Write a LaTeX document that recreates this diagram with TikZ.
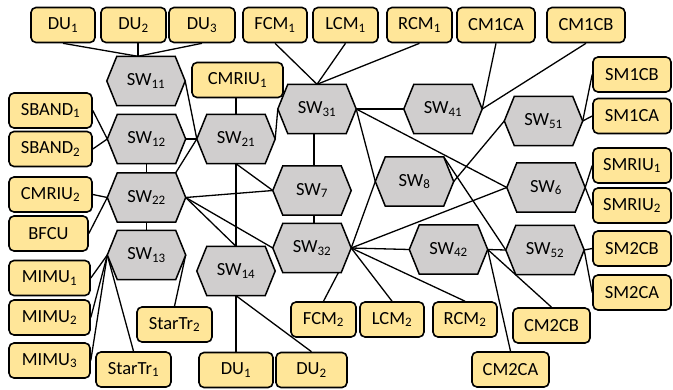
\documentclass[tikz,border=0pt]{standalone}
\usepackage{fontspec}
\setmainfont{Carlito}
\usetikzlibrary{calc}
\definecolor{boxfill}{HTML}{FFE699}
\definecolor{hexfill}{HTML}{D0CECE}
\pgfdeclarelayer{bg}
\pgfdeclarelayer{mid}
\pgfsetlayers{bg,mid,main}
\begin{document}
\begin{tikzpicture}[x=1pt,y=-1pt,
  lbl/.style={font=\fontsize{18.5}{20}\selectfont},
  box/.style={lbl, draw, line width=1.6pt, rounded corners=5pt, fill=boxfill, inner sep=0pt, minimum height=35pt},
  hexn/.style={lbl, inner sep=0pt, minimum width=78pt, minimum height=49pt},
  hexline/.style={draw, line width=1.5pt, fill=hexfill, line join=miter},
  link/.style={line width=1.3pt}]
\useasboundingbox (0,0) rectangle (673,389);
% top row
\node[box, minimum width=64pt] (du1t) at (63,25) {DU\textsubscript{1}};
\node[box, minimum width=65pt] (du2t) at (133.5,25) {DU\textsubscript{2}};
\node[box, minimum width=66pt] (du3t) at (202,25) {DU\textsubscript{3}};
\node[box, minimum width=64pt] (fcm1) at (275,25) {FCM\textsubscript{1}};
\node[box, minimum width=65pt] (lcm1) at (345.5,25) {LCM\textsubscript{1}};
\node[box, minimum width=65pt] (rcm1) at (419.5,25) {RCM\textsubscript{1}};
\node[box, minimum width=78pt] (cm1ca) at (496,25) {CM1CA};
\node[box, minimum width=78pt] (cm1cb) at (586,25) {CM1CB};
% right column
\node[box, minimum width=78pt] (sm1cb) at (632,74.5) {SM1CB};
\node[box, minimum width=78pt] (sm1ca) at (632,116) {SM1CA};
\node[box, minimum width=78pt] (smriu1) at (632,165.5) {SMRIU\textsubscript{1}};
\node[box, minimum width=78pt] (smriu2) at (632,205.5) {SMRIU\textsubscript{2}};
\node[box, minimum width=78pt] (sm2cb) at (632,248.5) {SM2CB};
\node[box, minimum width=78pt] (sm2ca) at (632,292.5) {SM2CA};
% left column
\node[box, minimum width=83pt] (sband1) at (50.5,110.5) {SBAND\textsubscript{1}};
\node[box, minimum width=83pt] (sband2) at (50.5,149) {SBAND\textsubscript{2}};
\node[box, minimum width=83pt] (cmriu2) at (50.5,194.5) {CMRIU\textsubscript{2}};
\node[box, minimum width=79pt] (bfcu) at (48.5,233.5) {BFCU};
\node[box, minimum width=81pt] (mimu1) at (49.5,278) {MIMU\textsubscript{1}};
\node[box, minimum width=81pt] (mimu2) at (49.5,317.5) {MIMU\textsubscript{2}};
\node[box, minimum width=81pt] (mimu3) at (49.5,360.5) {MIMU\textsubscript{3}};
\node[box, minimum width=75pt] (startr1) at (133.5,369.5) {StarTr\textsubscript{1}};
\node[box, minimum width=75pt] (startr2) at (174.5,324.5) {StarTr\textsubscript{2}};
% middle boxes
\node[box, minimum width=91pt] (cmriu1) at (237.5,80) {CMRIU\textsubscript{1}};
\node[box, minimum width=74pt] (du1b) at (236,370) {DU\textsubscript{1}};
\node[box, minimum width=71pt] (du2b) at (311.5,370) {DU\textsubscript{2}};
\node[box, minimum width=65pt] (fcm2) at (323.5,319.5) {FCM\textsubscript{2}};
\node[box, minimum width=64pt] (lcm2) at (392,319.5) {LCM\textsubscript{2}};
\node[box, minimum width=64pt] (rcm2) at (465,319.5) {RCM\textsubscript{2}};
\node[box, minimum width=77pt] (cm2cb) at (551.5,325.5) {CM2CB};
\node[box, minimum width=77pt] (cm2ca) at (510.5,369.5) {CM2CA};
% switches
\node[hexn] (sw11) at (146,81) {SW\textsubscript{11}};
\node[hexn] (sw12) at (146.5,139) {SW\textsubscript{12}};
\node[hexn] (sw22) at (146.5,197.5) {SW\textsubscript{22}};
\node[hexn] (sw13) at (146.5,255) {SW\textsubscript{13}};
\node[hexn] (sw21) at (236,139) {SW\textsubscript{21}};
\node[hexn] (sw14) at (236,271) {SW\textsubscript{14}};
\node[hexn] (sw31) at (317,109) {SW\textsubscript{31}};
\node[hexn] (sw7) at (312,190.5) {SW\textsubscript{7}};
\node[hexn] (sw32) at (312,248) {SW\textsubscript{32}};
\node[hexn] (sw8) at (414.5,181.5) {SW\textsubscript{8}};
\node[hexn] (sw41) at (443,109) {SW\textsubscript{41}};
\node[hexn] (sw51) at (543.5,121) {SW\textsubscript{51}};
\node[hexn] (sw6) at (546,187.5) {SW\textsubscript{6}};
\node[hexn] (sw52) at (545,250) {SW\textsubscript{52}};
\node[hexn] (sw42) at (448.5,249.5) {SW\textsubscript{42}};
\coordinate (s11t) at ([xshift=-8pt]sw11.north);
\coordinate (s7t) at ([xshift=2pt]sw7.north);
\begin{pgfonlayer}{mid}
\foreach \n in {sw11,sw12,sw22,sw13,sw21,sw14,sw31,sw7,sw32,sw8,sw41,sw51,sw6,sw52,sw42}{
  \draw[hexline] (\n.west) -- ([xshift=10pt]\n.north west) -- ([xshift=-10pt]\n.north east) -- (\n.east) -- ([xshift=-10pt]\n.south east) -- ([xshift=10pt]\n.south west) -- cycle;
}
\end{pgfonlayer}
\begin{pgfonlayer}{bg}
\draw[link] (du1t.south) -- (s11t);
\draw[link] (du2t.south -| s11t) -- (s11t);
\draw[link] (du3t.south) -- (s11t);
\draw[link] (sw11.east) -- (sw21.west);
\draw[link] (sband1.east) -- (sw12.west);
\draw[link] (sband2.east) -- (sw12.west);
\draw[link] (sw12.east) -- (sw21.west);
\draw[link] (sw12.south) -- (sw22.north);
\draw[link] ([xshift=-10pt]sw22.north east) -- (sw21.west);
\draw[link] (sw22.south) -- (sw13.north);
\draw[link] (cmriu2.east) -- (sw22.west);
\draw[link] (bfcu.east) -- (sw22.west);
\draw[link] (sw13.west) -- (mimu1.east);
\draw[link] (sw13.west) -- (mimu2.east);
\draw[link] (sw13.west) -- (mimu3.east);
\draw[link] (sw13.west) -- (startr1.north);
\draw[link] (sw13.east) -- (startr2.north);
\draw[link] (cmriu1.south -| sw21.north) -- (sw21.north);
\draw[link] (sw21.south) -- (sw14.north);
\draw[link] (sw21.south) -- (sw7.west);
\draw[link] (sw21.east) -- (sw31.west);
\draw[link] (sw22.east) -- (sw7.west);
\draw[link] (sw22.east) -- (sw14.north);
\draw[link] (sw22.east) -- (sw32.west);
\draw[link] (sw14.south) -- (du1b.north);
\draw[link] (sw14.south) -- (du2b.north);
\draw[link] (fcm1.south) -- (sw31.north);
\draw[link] (lcm1.south) -- (sw31.north);
\draw[link] (rcm1.south) -- (sw31.north);
\draw[link] (s7t |- sw31.south) -- (s7t);
\draw[link] (sw7.south -| s7t) -- (sw32.north -| s7t);
\draw[link] (sw31.east) -- (sw41.west);
\draw[link] (sw31.east) -- (sw8.west);
\draw[link] (sw31.east) -- (sw6.west);
\draw[link] (sw32.east) -- (sw8.west);
\draw[link] (sw32.east) -- (sw6.west);
\draw[link] (sw32.east) -- (sw42.west);
\draw[link] (sw32.east) -- (fcm2.north);
\draw[link] (sw32.east) -- (lcm2.north);
\draw[link] (sw32.east) -- (rcm2.north);
\draw[link] (sw41.east) -- (cm1ca.south);
\draw[link] (sw41.east) -- (cm1cb.south);
\draw[link] (sw8.east) -- (sw51.west);
\draw[link] ([xshift=-10pt]sw8.north east) -- (sw52.west);
\draw[link] (sw42.east) -- (sw52.west);
\draw[link] (sw42.east) -- (cm2ca.north);
\draw[link] (sw42.east) -- (cm2cb.north);
\draw[link] (sw51.east) -- (sm1cb.west);
\draw[link] (sw51.east) -- (sm1ca.west);
\draw[link] (sw6.east) -- (smriu1.west);
\draw[link] (sw6.east) -- (smriu2.west);
\draw[link] (sw52.east) -- (sm2cb.west);
\draw[link] (sw52.east) -- (sm2ca.west);
\end{pgfonlayer}
\end{tikzpicture}
\end{document}
